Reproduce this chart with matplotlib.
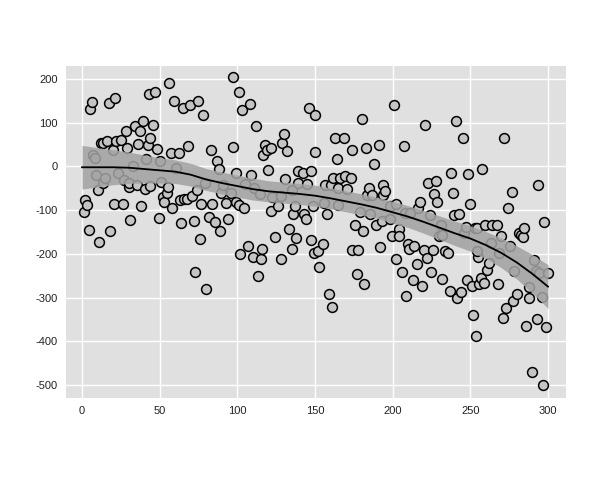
import matplotlib
matplotlib.use("Agg")
import matplotlib.pyplot as plt
import numpy as np

plt.rcParams['font.family'] = ['Liberation Sans', 'DejaVu Sans']
plt.rcParams['axes.unicode_minus'] = False

# scatter points (x, y)
x_vals = [1.5, 2, 3.2, 4.3, 5.2, 6.4, 7.3, 8.6, 9, 10.5, 11, 12, 13.3, 13.7, 15, 16, 17.4, 18,
          19.7, 20.4, 21.2, 21.9, 23.4, 25, 26.2, 27.3, 28.3, 29, 30, 30.5, 31, 33, 34.3, 35.2,
          35.8, 37.3, 38.2, 39, 40.4, 41, 42.5, 43, 44, 44, 46, 47, 48.3, 49.4, 50.4, 51, 52, 53,
          55, 55.4, 56, 57, 58, 59.2, 60.7, 62.3, 63, 64, 65, 65.7, 67.8, 68.2, 69.7, 70.8, 72,
          73, 74.2, 75, 76, 76.8, 78, 79.4, 80, 81.8, 83.3, 83.9, 85.4, 87, 88, 88.7, 89.7, 90.8,
          93, 94, 95.7, 97, 97, 99, 99, 101, 101, 102, 103, 104, 105, 107, 108, 109, 110, 111, 112,
          113, 114.6, 115, 115.7, 116.7, 117.8, 119.3, 120, 121.5, 122, 122.4, 124, 126.4, 128,
          128, 129, 130, 131, 132, 133, 135, 135, 136, 137, 138, 139, 139, 142, 143, 144, 144.7,
          146, 147.5, 147.5, 148.5, 150, 150, 149.5, 152, 152.7, 155, 155.6, 156.7, 158, 158.8,
          160, 160.9, 161.4, 163, 164, 164.8, 165, 166, 168.9, 169.5, 170.6, 173, 174, 174,
          175.6, 177, 178, 179, 180, 181, 181.8, 183, 183.5, 185, 185.6, 186.7, 187.8, 189, 191,
          192, 193, 194, 194, 195, 198, 198.5, 199.6, 201, 202, 202, 204, 204, 206, 207, 208,
          208.8, 210, 210.5, 211, 213, 214, 215.9, 216, 217.6, 219, 220, 221, 222, 223, 224,
          225, 226, 226.6, 227.7, 228.8, 230, 230.9, 232, 232, 233.7, 235.7, 237, 237.8, 239,
          239.5, 240.5, 241.6, 243, 243.8, 245.5, 246, 247, 247.7, 248.5, 249.8, 251, 251.7,
          252.8, 253.5, 254, 255, 254, 255.8, 257, 257.6, 258.7, 259.7, 261, 261.8, 263, 264,
          267, 267.7, 268.7, 269.8, 271, 272, 273, 274, 275.8, 276.9, 277.6, 278.4, 279.9,
          281.5, 282.6, 284, 284.8, 285.8, 287.6, 288, 289.8, 291, 292, 292.7, 293.8, 294, 296,
          297, 297.6, 298.8, 300]
y_vals = [-104, -78, -88, -145, 132, 148, 27, 20, -20, -53, -172, 53, -39, 54, -26, 58, 144, -147,
          37, -85, 157, 58, -16, 60, -87, -31, 82, 41, -47, -39, -122, 1, 92, -43,
          51, 81, -91, 104, -51, 18, 50, 166, -45, 64, 95, 170, 39, -117, 12, -36, -69, -82,
          -60, -46, 191, 31, -96, 150, -3, 31, -78, -130, 134, -75, -74, 46, 140, -68, -125,
          -242, -53, 150, -165, -87, 117, -39, -281, -115, 37, -87, -127, 12, -5, -147, -60, -43,
          -83, -120, -60, 205, 45, -15, -82, 171, -88, -200, 129, -96, -41, -182, 142, -20, -207, -50, 92,
          -251, -64, -213, -190, 27, 50, 37, -8, 43, -101, -69, -162, -91, -68,
          -211, 54, 73, -28, 35, -144, -53, -188, -110, -91, -163, -11, -38, -15, -110, -121, -41,
          134, -11, -168, -91, 118, 34, -198, -194, -230, -177, -83, -43, -110, -293,
          -43, -321, -26, 64, 18, -89, -49, -26, 64, -22, -51, -26, 37, -192,
          -133, -247, -192, -104, 109, -148, -270, 41, -66, -50, -108, -66, 5, -133, 50,
          -185, -125, -43, -66, -56, -121, -91, -159, 141, -211, -85, -143, -160, -242, 46, -106,
          -297, -178, -188, -107, -259, -181, -223, -95, -82, -274, -192, 94, -209, -39, -112,
          -241, -192, -64, -34, -82, -160, -133, -257, -158, -194, -198, -284, -16, -62,
          -111, 105, -300, -110, -288, 66, -152, -138, -260, -18, -87, -274, -339,
          -142, -387, -140, -208, -193, -270, -255, -7, -266, -135, -238, -220, -175, -135,
          -133, -268, -198, -159, -348, 64, -323, -96, -182, -59, -308, -240, -291,
          -152, -156, -162, -140, -365, -300, -277, -470, -215, -240, -350, -43, -243, -298,
          -500, -127, -367, -243]

# smoothed trend and its confidence half-width, read at knots
smooth_x = [0, 10, 20, 30, 40, 50, 60, 70, 80, 90, 100, 110, 120, 130, 140, 150, 160, 170, 180,
            190, 200, 210, 220, 230, 240, 250, 260, 270, 280, 290, 300]
smooth_y = [-2, -2, -2, -3, -6, -9, -12, -19, -30, -38, -45, -52, -57, -60, -63, -67, -73, -80,
            -87, -95, -105, -115, -127, -140, -153, -165, -180, -198, -220, -246, -275]
band_hw = [50, 45, 40, 36, 32, 29, 27, 26, 25, 25, 25, 25, 24, 24, 24, 24, 24, 24, 24,
           24, 25, 25, 26, 27, 28, 29, 31, 34, 38, 44, 50]

x_ticks = [0, 50, 100, 150, 200, 250, 300]
y_ticks = [-500, -400, -300, -200, -100, 0, 100, 200]

fig = plt.figure(figsize=(6, 4.8), dpi=100)
ax = fig.add_axes([66 / 600, 1 - 398 / 480, 500 / 600, 332 / 480])
ax.set_facecolor('#e0e0e0')
for s in ax.spines.values():
    s.set_visible(False)
ax.grid(True, color='white', linewidth=1.0)
ax.set_axisbelow(True)

ax.scatter(x_vals, y_vals, s=50, facecolor='#c4c4c4', edgecolor='black', linewidths=1.1, zorder=2)

sy = np.array(smooth_y)
hw = np.array(band_hw)
ax.fill_between(smooth_x, sy - hw, sy + hw, color='#a2a2a2', alpha=0.87, linewidth=0, zorder=3)
ax.plot(smooth_x, smooth_y, color='black', linewidth=1.3, zorder=4)

ax.set_xticks(x_ticks)
ax.set_yticks(y_ticks)
ax.set_xlim(-10.3, 311.6)
ax.set_ylim(-529.9, 229.7)
ax.tick_params(length=0, labelsize=8, labelcolor='#222222', pad=6)

fig.savefig('out.png', dpi=100)
